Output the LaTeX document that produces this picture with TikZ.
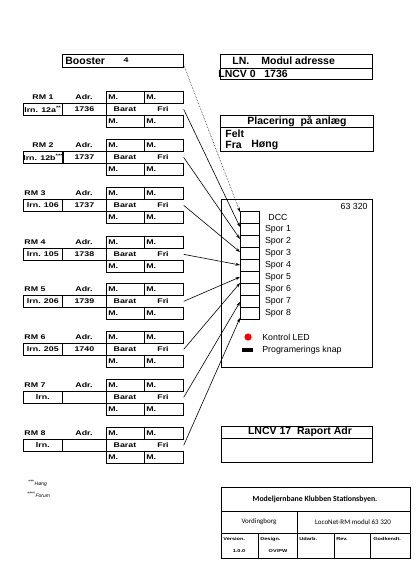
\documentclass[tikz,border=0pt]{standalone}
\usepackage{fontspec}
\setmainfont{Liberation Sans}
\newfontfamily\calfont{Carlito}
\newfontfamily\rmfont[FakeStretch=1.3]{Liberation Sans}
\usetikzlibrary{arrows.meta}
\begin{document}
\begin{tikzpicture}[x=1pt,y=-1pt,line width=0.7pt,
  rmt/.style={font=\rmfont\bfseries\fontsize{6.8}{7}\selectfont,inner sep=0pt},
  mbox/.style={draw,anchor=north west,minimum height=12pt,text width=34pt,inner xsep=2pt,inner ysep=0pt,align=left,font=\rmfont\bfseries\fontsize{6.8}{7}\selectfont},
  lbox/.style={draw,anchor=north west,minimum height=12pt,inner sep=0pt,font=\rmfont\bfseries\fontsize{6.8}{7}\selectfont},
  conn/.style={draw,anchor=north west,minimum width=19pt,minimum height=12pt,inner sep=0pt},
  spor/.style={font=\fontsize{8.8}{10}\selectfont,inner sep=0pt},
  hdr/.style={font=\bfseries\fontsize{10.5}{12}\selectfont,inner sep=0pt},
  arr/.style={-{Stealth[length=4.5pt,width=3pt]},line width=0.6pt},
  tb/.style={font=\rmfont\bfseries\fontsize{4.3}{5}\selectfont,inner sep=0pt},
  tm/.style={font=\calfont\fontsize{7}{8}\selectfont,inner sep=0pt}]
\useasboundingbox[fill=white] (0,0) rectangle (420,563);

\newcommand\rmblk[5]{%
  \node[rmt] (rm#1lab) at (#3,#2+6) {RM #1};
  \node[rmt] (rm#1adr) at (84,#2+6) {Adr.};
  \node[mbox] (rm#1ma) at (106,#2) {M.};
  \node[mbox,text width=35pt] (rm#1mb) at (144,#2) {M.};
  \node[lbox,minimum width=39pt] (rm#1lrn) at (23,#2+12) {#4};
  \node[lbox,minimum width=44pt] (rm#1nr) at (62,#2+12) {#5};
  \node[anchor=north west,minimum width=77pt,minimum height=12pt,inner sep=0pt] (rm#1mid) at (106,#2+12) {};
  \node[rmt] (rm#1bar) at (125,#2+18.5) {Barat};
  \node[rmt] (rm#1fri) at (163,#2+18.5) {Fri};
  \node[mbox] (rm#1mc) at (106,#2+24) {M.};
  \node[mbox,text width=35pt] (rm#1md) at (144,#2+24) {M.};
}

% Booster
\node[draw,anchor=north west,minimum width=121pt,minimum height=13pt,inner sep=0pt] (boost) at (62,54) {};
\node[font=\bfseries\fontsize{10.5}{12}\selectfont,anchor=west,inner sep=0pt] (boostt) at (65,60.5) {Booster};
\node[rmt] (boostn) at (126,60.5) {4};
\coordinate (boostout) at (183,63);

% RM blocks
\rmblk{1}{91}{43}{lrn. 12a\textsuperscript{**}}{1736}
\rmblk{2}{139}{43}{lrn. 12b\textsuperscript{***}}{1737}
\rmblk{3}{187}{35}{lrn. 106}{1737}
\rmblk{4}{236}{35}{lrn. 105}{1738}
\rmblk{5}{283}{35}{lrn. 206}{1739}
\rmblk{6}{331}{35}{lrn. 205}{1740}
\rmblk{7}{379}{35}{lrn.}{}
\rmblk{8}{427}{35}{lrn.}{}

% LN box
\node[draw,anchor=north west,minimum width=152pt,minimum height=25pt,inner sep=0pt] (lnbox) at (220,54) {};
\draw (220,68) -- (372,68);
\node[hdr,anchor=west] (lnt) at (232,61) {LN.};
\node[hdr,anchor=west] (lnm) at (261,61) {Modul adresse};
\node[hdr,anchor=west] (lncv) at (218,73.5) {LNCV 0};
\node[hdr,anchor=west] (lnv) at (264,73.5) {1736};

% Placering box
\node[draw,anchor=north west,minimum width=153pt,minimum height=36pt,inner sep=0pt] (plbox) at (220,115) {};
\draw (220,127) -- (373,127);
\node[hdr] (plt) at (297,121) {Placering~ på anlæg};
\node[hdr,anchor=west] (felt) at (225,133.5) {Felt};
\node[hdr,anchor=west] (fra) at (225,145) {Fra};
\node[hdr,anchor=west] (hong) at (251,145) {Høng};

% Module
\node[draw,anchor=north west,minimum width=151pt,minimum height=168pt,inner sep=0pt] (module) at (221,199) {};
\node[spor,anchor=east] (modnr) at (368,206) {63 320};
\foreach \i/\t in {0/DCC,1/Spor 1,2/Spor 2,3/Spor 3,4/Spor 4,5/Spor 5,6/Spor 6,7/Spor 7,8/Spor 8}{
  \node[conn] (c\i) at (240,211+12*\i) {};
  \node[spor] (l\i) at (278,217.5+12*\i) {\t};
}
\fill[red] (248,337) circle (3.6pt);
\node[spor,anchor=west] (led) at (262,337) {Kontrol LED};
\fill (242,347.5) rectangle (253,351.5);
\node[spor,anchor=west] (knap) at (262,350) {Programerings knap};

% inputs
\coordinate (in0) at (240,212);
\coordinate (in1) at (240,227);
\coordinate (in2) at (240,239);
\coordinate (in3) at (240,252);
\coordinate (in4) at (240,265);
\coordinate (in5) at (240,277);
\coordinate (in6) at (240,283);
\coordinate (in7) at (240,302);
\coordinate (in8) at (240,318);

\draw[arr,densely dotted,line width=0.5pt] (boostout) -- (in0);
\foreach \k in {1,...,8}{
  \draw[arr] (rm\k mid.east) -- (in\k);
}

% LNCV 17 box
\node[draw,anchor=north west,minimum width=151pt,minimum height=36pt,inner sep=0pt] (rbox) at (221,426) {};
\draw (221,438) -- (372,438);
\node[hdr] (rt) at (300,432) {LNCV 17~ Raport Adr};

% footnotes
\node[anchor=west,inner sep=0pt,font=\fontsize{5}{6}\selectfont] (fn1) at (28,483) {\textsuperscript{***}\textit{Høng}};
\node[anchor=west,inner sep=0pt,font=\fontsize{5}{6}\selectfont] (fn2) at (27,494.5) {\textsuperscript{****}\textit{Forum}};

% title block
\node[draw,anchor=north west,minimum width=189pt,minimum height=71pt,inner sep=0pt] (tblock) at (221,487) {};
\draw (221,511) -- (410,511);
\draw (221,533) -- (410,533);
\draw (297,511) -- (297,558);
\draw (258,533) -- (258,558);
\draw (334,533) -- (334,558);
\draw (370,533) -- (370,558);
\node[font=\calfont\bfseries\fontsize{7.8}{9}\selectfont,inner sep=0pt] (tt) at (315,499) {Modeljernbane Klubben Stationsbyen.};
\node[tm] (vd) at (259,522) {Vordingborg};
\node[tm] (lc) at (353,522) {LocoNet-RM modul 63 320};
\node[tb,anchor=west] (ver) at (223,539) {Version.};
\node[tb] (vern) at (239,551) {1.0.0};
\node[tb,anchor=west] (des) at (260,539) {Design.};
\node[tb] (desn) at (278,551) {OV/PW};
\node[tb,anchor=west] (udb) at (299,539) {Udarb.};
\node[tb,anchor=west] (rev) at (336,539) {Rev.};
\node[tb,anchor=west] (god) at (373,539) {Godkendt.};
\end{tikzpicture}
\end{document}
